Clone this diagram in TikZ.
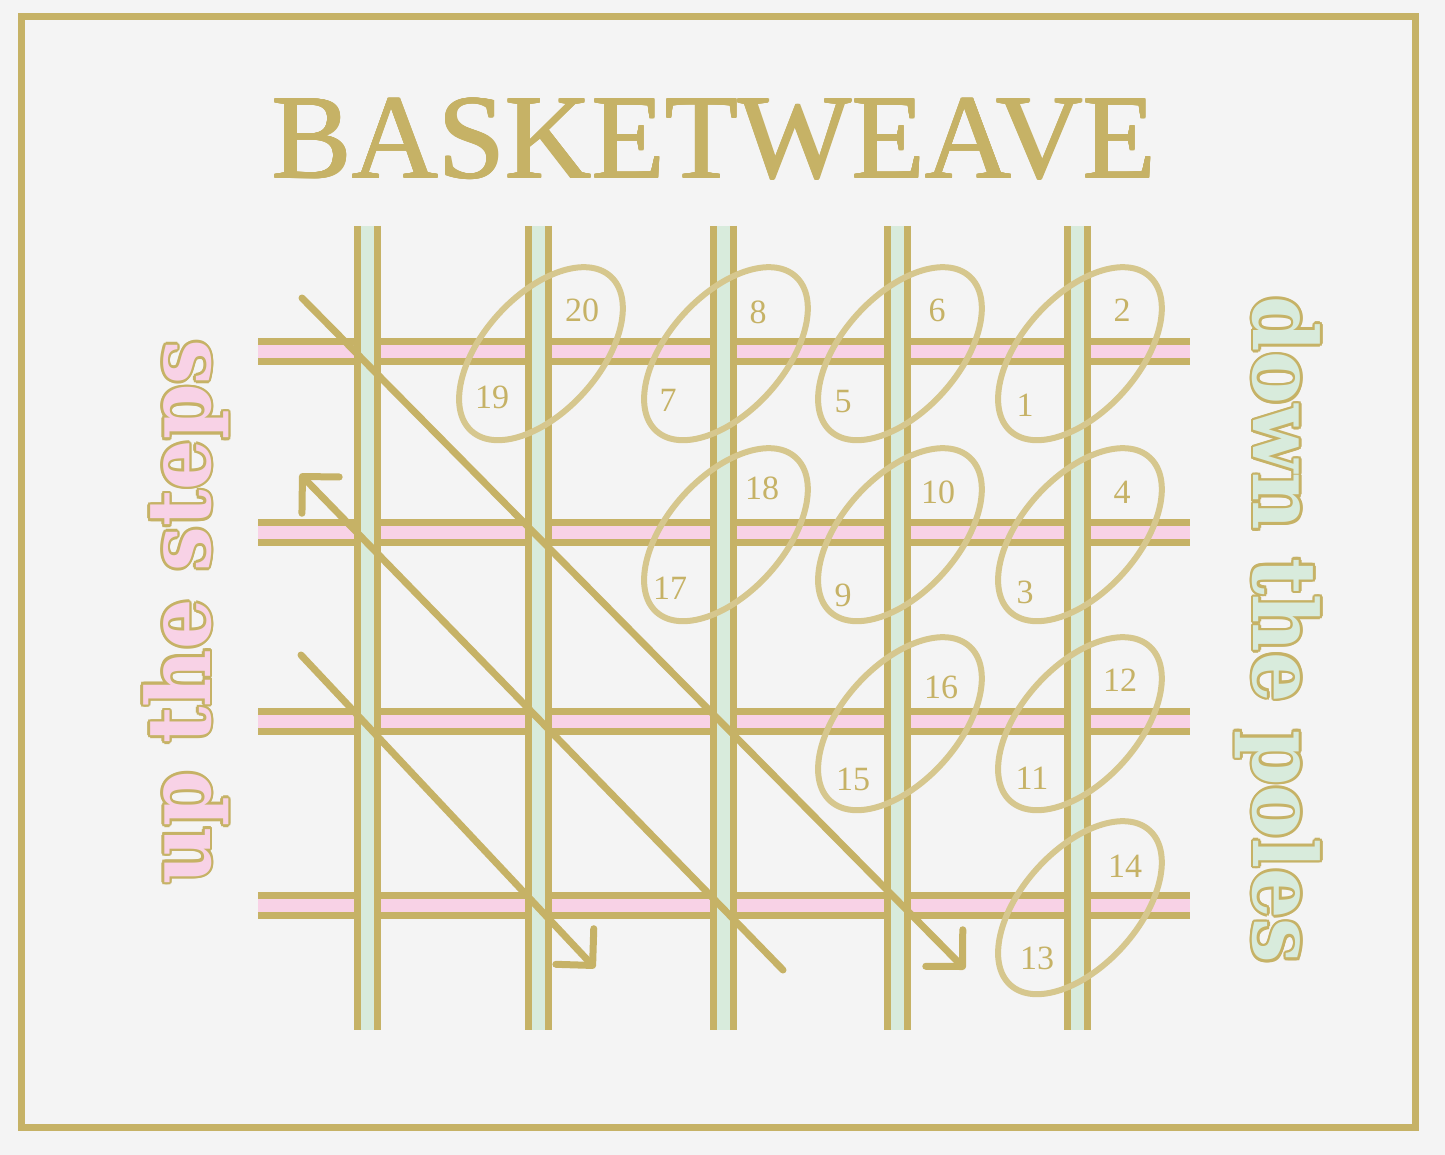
\documentclass[tikz,border=0pt]{standalone}
\usepackage{fontspec}
\setmainfont{Liberation Serif}
\newfontfamily\slabfont[FakeStretch=0.9]{DejaVu Serif}
\usepackage{tikz}
\usetikzlibrary{arrows.meta}

\definecolor{gold}{RGB}{198,178,102}
\definecolor{paleGold}{RGB}{214,199,142}
\definecolor{railPink}{RGB}{248,210,230}
\definecolor{poleGreen}{RGB}{216,235,220}
\definecolor{paper}{RGB}{244,244,244}

\tikzset{
  rail/.style={draw=gold, line width=3.5pt, double=railPink, double distance=6.5pt},
  pole/.style={draw=gold, line width=3.5pt, double=poleGreen, double distance=6.5pt},
  diag/.style={draw=gold, line width=3.5pt, line cap=round},
  barb/.tip={Straight Barb[length=13pt, width=26pt, round]},
  ring/.style={draw=paleGold, line width=3pt},
  num/.style={text=gold, font=\fontsize{17}{17}\selectfont, inner sep=0pt},
  side/.style={font=\slabfont\bfseries\fontsize{44}{44}\selectfont, inner sep=0pt},
  headline/.style={text=gold, font=\fontsize{60}{60}\selectfont, anchor=base, inner sep=0pt},
}

\begin{document}
\begin{tikzpicture}[x=0.5pt, y=-0.5pt]
    \useasboundingbox[fill=paper] (0,0) rectangle (1445,1155);

    % Frame and title
    \draw[gold, line width=3.5pt] (21,17) rectangle (1415,1127);
    \foreach \a in {0,45,...,315} {
      \node[headline, shift={(\a:0.35pt)}] (title-\a) at (714,178) {BASKETWEAVE};
    }
    \node[headline] (title) at (714,178) {BASKETWEAVE};

    % Side texts, gold outline under a pale fill
    \foreach \a in {0,30,...,330} {
      \node[side, text=gold, rotate=90, shift={(\a:1.3pt)}] (up-\a) at (186,612) {up the steps};
      \node[side, text=gold, rotate=-90, shift={(\a:1.3pt)}] (down-\a) at (1278,630) {down the poles};
    }
    \node[side, text=railPink, rotate=90] (up) at (186,612) {up the steps};
    \node[side, text=poleGreen, rotate=-90] (down) at (1278,630) {down the poles};

    % Crossings
    \coordinate (A) at (1077,351);
    \coordinate (B) at (1077,532);
    \coordinate (C) at (897,351);
    \coordinate (D) at (723,351);
    \coordinate (E) at (897,532);
    \coordinate (F) at (1077,721);
    \coordinate (G) at (1077,905);
    \coordinate (H) at (897,721);
    \coordinate (I) at (723,532);
    \coordinate (J) at (538,351);

    % Rails (steps)
    \draw[rail] (258,351) -- (1190,351);
    \draw[rail] (258,532) -- (1190,532);
    \draw[rail] (258,721) -- (1190,721);
    \draw[rail] (258,905) -- (1190,905);

    % Poles
    \draw[pole] (367,226) -- (367,1030);
    \draw[pole] (538,226) -- (538,1030);
    \draw[pole] (723,226) -- (723,1030);
    \draw[pole] (897,226) -- (897,1030);
    \draw[pole] (1077,226) -- (1077,1030);

    % Diagonals
    \coordinate (K) at (302,298);
    \coordinate (L) at (965,969);
    \coordinate (M) at (300,474);
    \coordinate (N) at (783,970);
    \coordinate (O) at (301,655);
    \coordinate (P) at (595,968);

    \draw[diag, -barb] (K) -- (L);
    \draw[diag, barb-] (M) -- (N);
    \draw[diag, -barb] (O) -- (P);

    % Rings
    \draw[ring, rotate around={48:(A)}] ([yshift=-2pt]A) ellipse [x radius=52pt, y radius=29pt];
    \draw[ring, rotate around={48:(B)}] ([yshift=-2pt]B) ellipse [x radius=52pt, y radius=29pt];
    \draw[ring, rotate around={48:(C)}] ([yshift=-2pt]C) ellipse [x radius=52pt, y radius=29pt];
    \draw[ring, rotate around={48:(D)}] ([yshift=-2pt]D) ellipse [x radius=52pt, y radius=29pt];
    \draw[ring, rotate around={48:(E)}] ([yshift=-2pt]E) ellipse [x radius=52pt, y radius=29pt];
    \draw[ring, rotate around={48:(F)}] ([yshift=-2pt]F) ellipse [x radius=52pt, y radius=29pt];
    \draw[ring, rotate around={48:(G)}] ([yshift=-2pt]G) ellipse [x radius=52pt, y radius=29pt];
    \draw[ring, rotate around={48:(H)}] ([yshift=-2pt]H) ellipse [x radius=52pt, y radius=29pt];
    \draw[ring, rotate around={48:(I)}] ([yshift=-2pt]I) ellipse [x radius=52pt, y radius=29pt];
    \draw[ring, rotate around={48:(J)}] ([yshift=-2pt]J) ellipse [x radius=52pt, y radius=29pt];

    % Numbers
    \node[num] (n1) at (1025,405) {1};
    \node[num] (n2) at (1122,310) {2};
    \node[num] (n3) at (1025,592) {3};
    \node[num] (n4) at (1122,492) {4};
    \node[num] (n5) at (843,402) {5};
    \node[num] (n6) at (937,310) {6};
    \node[num] (n7) at (668,400) {7};
    \node[num] (n8) at (758,312) {8};
    \node[num] (n9) at (843,595) {9};
    \node[num] (n10) at (938,492) {10};
    \node[num] (n11) at (1032,778) {11};
    \node[num] (n12) at (1120,680) {12};
    \node[num] (n13) at (1037,958) {13};
    \node[num] (n14) at (1125,866) {14};
    \node[num] (n15) at (853,779) {15};
    \node[num] (n16) at (941,687) {16};
    \node[num] (n17) at (670,588) {17};
    \node[num] (n18) at (762,488) {18};
    \node[num] (n19) at (492,397) {19};
    \node[num] (n20) at (582,310) {20};

\end{tikzpicture}
\end{document}
